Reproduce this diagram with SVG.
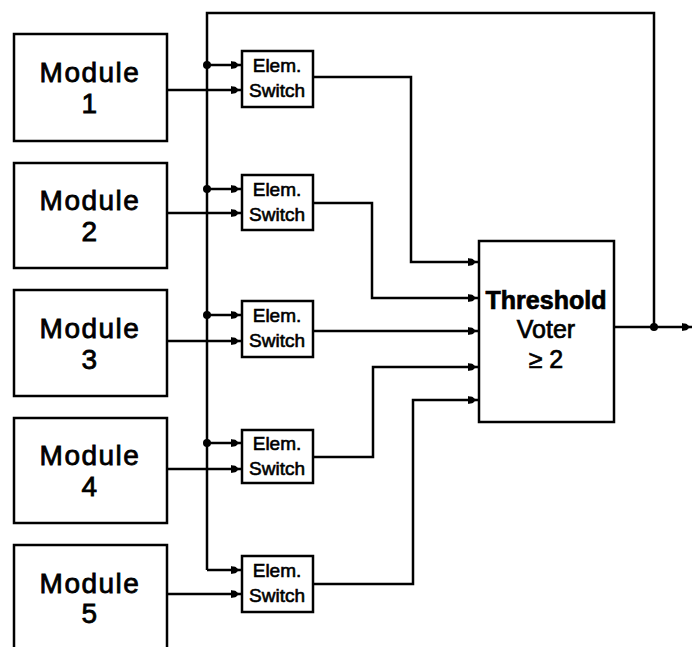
<svg xmlns="http://www.w3.org/2000/svg" width="693" height="647" viewBox="0 0 693 647">
<style>
.box{fill:#fff;stroke:#000;stroke-width:2.5}
.w{fill:none;stroke:#000;stroke-width:2.5}
.mod{font-family:"Liberation Sans",Arial,sans-serif;font-size:28px;letter-spacing:1.5px;text-anchor:middle;fill:#000;stroke:#000;stroke-width:0.8}
.sw{font-family:"Liberation Sans",Arial,sans-serif;font-size:19px;text-anchor:middle;fill:#000;stroke:#000;stroke-width:0.6}
.vt{font-family:"Liberation Sans",Arial,sans-serif;font-size:25px;text-anchor:middle;fill:#000;stroke:#000;stroke-width:0.7}
.dot{fill:#000}
</style>
<defs>
<marker id="arr" viewBox="0 0 10 10" refX="10" refY="5" markerWidth="4.2" markerHeight="4.2" orient="auto" markerUnits="strokeWidth">
<path d="M0,1 L10,5 L0,9 Z" fill="#000"/>
<circle cx="3" cy="5" r="3.4" fill="#000"/>
</marker>
</defs>
<rect width="693" height="647" fill="#fff"/>
<g id="connectors">
<path class="w" d="M207,570 V13 H654 V327"/>
<path class="w" d="M207,570 H241" marker-end="url(#arr)"/>
<path class="w" d="M207,65 H241" marker-end="url(#arr)"/>
<path class="w" d="M207,189 H241" marker-end="url(#arr)"/>
<path class="w" d="M207,315 H241" marker-end="url(#arr)"/>
<path class="w" d="M207,443 H241" marker-end="url(#arr)"/>
<path class="w" d="M167,90 H241" marker-end="url(#arr)"/>
<path class="w" d="M167,213 H241" marker-end="url(#arr)"/>
<path class="w" d="M167,341 H241" marker-end="url(#arr)"/>
<path class="w" d="M167,469 H241" marker-end="url(#arr)"/>
<path class="w" d="M167,594 H241" marker-end="url(#arr)"/>
<path class="w" d="M313,77 H411 V262 H478" marker-end="url(#arr)"/>
<path class="w" d="M313,203 H372 V298 H478" marker-end="url(#arr)"/>
<path class="w" d="M313,331 H478" marker-end="url(#arr)"/>
<path class="w" d="M313,457 H373 V367 H478" marker-end="url(#arr)"/>
<path class="w" d="M313,584 H413 V400 H478" marker-end="url(#arr)"/>
<path class="w" d="M614,327 H692" marker-end="url(#arr)"/>
<circle class="dot" cx="207" cy="65" r="4"/>
<circle class="dot" cx="207" cy="189" r="4"/>
<circle class="dot" cx="207" cy="315" r="4"/>
<circle class="dot" cx="207" cy="443" r="4"/>
<circle class="dot" cx="654" cy="327" r="4"/>
</g>
<g id="module1"><rect class="box" x="14" y="34" width="153" height="107"/><text class="mod" x="90" y="82">Module</text><text class="mod" x="90" y="113">1</text></g>
<g id="module2"><rect class="box" x="14" y="163" width="153" height="105"/><text class="mod" x="90" y="210">Module</text><text class="mod" x="90" y="241">2</text></g>
<g id="module3"><rect class="box" x="14" y="290" width="153" height="106"/><text class="mod" x="90" y="338">Module</text><text class="mod" x="90" y="369">3</text></g>
<g id="module4"><rect class="box" x="14" y="418" width="153" height="105"/><text class="mod" x="90" y="465">Module</text><text class="mod" x="90" y="496">4</text></g>
<g id="module5"><rect class="box" x="14" y="545" width="153" height="120"/><text class="mod" x="90" y="593">Module</text><text class="mod" x="90" y="623">5</text></g>
<g id="switch1"><rect class="box" x="242" y="51" width="71" height="56"/><text class="sw" x="277" y="72">Elem.</text><text class="sw" x="277" y="97">Switch</text></g>
<g id="switch2"><rect class="box" x="242" y="175" width="71" height="55"/><text class="sw" x="277" y="196">Elem.</text><text class="sw" x="277" y="221">Switch</text></g>
<g id="switch3"><rect class="box" x="242" y="301" width="71" height="56"/><text class="sw" x="277" y="322">Elem.</text><text class="sw" x="277" y="347">Switch</text></g>
<g id="switch4"><rect class="box" x="242" y="430" width="71" height="53"/><text class="sw" x="277" y="450">Elem.</text><text class="sw" x="277" y="475">Switch</text></g>
<g id="switch5"><rect class="box" x="242" y="556" width="71" height="56"/><text class="sw" x="277" y="577">Elem.</text><text class="sw" x="277" y="602">Switch</text></g>
<g id="voter"><rect class="box" x="479" y="241" width="135" height="181"/><text class="vt" x="546" y="309" font-weight="bold" font-size="24px" stroke-width="0.3">Threshold</text><text class="vt" x="546" y="338">Voter</text><text class="vt" x="546" y="368">≥ 2</text></g>
</svg>
